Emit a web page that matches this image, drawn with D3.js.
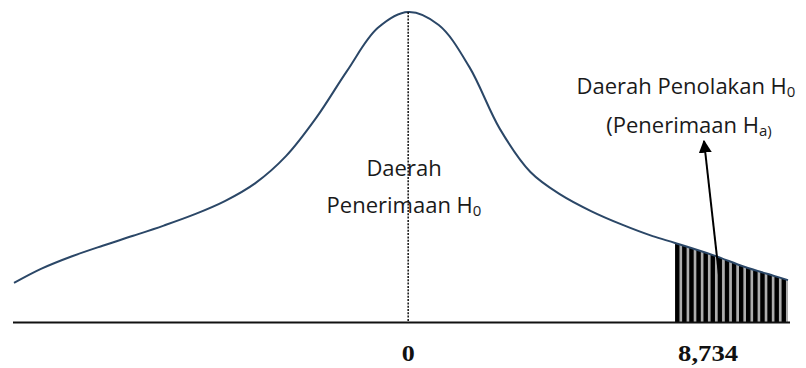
<!DOCTYPE html>
<html>
<head>
<meta charset="utf-8">
<script src="https://cdn.jsdelivr.net/npm/d3@7"></script>
<style>
  body { margin: 0; background: #fff; }
  .lbl { font-family: "Open Sans", sans-serif; fill: #1a1a1a; }
  .tick { font-family: "Liberation Serif", serif; font-weight: bold; fill: #111; }
</style>
</head>
<body>
<div id="chart"></div>
<script>
// curve: t (test statistic) and relative density
const tVals = [-12.9, -12, -11, -10, -9, -8, -7, -6, -5, -4, -3, -2, -1, 0,
               1, 2, 3, 4, 5, 6, 7, 8, 8.734, 10, 11, 12, 12.43];
const density = [0.126, 0.172, 0.212, 0.246, 0.278, 0.311, 0.347, 0.39, 0.448, 0.535, 0.66, 0.81, 0.948, 1.0,
                 0.958, 0.823, 0.623, 0.484, 0.41, 0.357, 0.314, 0.277, 0.255, 0.215, 0.178, 0.148, 0.135];
const critical = 8.734;
const tickVals = [0, critical];
const tickLabels = ["0", "8,734"];

const w = 806, h = 368;
const svg = d3.select("#chart").append("svg")
  .attr("width", w)
  .attr("height", h);

const x = d3.scaleLinear().domain([-12.9, 12.43]).range([14, 788]);
const y = d3.scaleLinear().domain([0, 1]).range([322, 12]);

const pts = tVals.map((t, i) => ({t: t, d: density[i]}));

// stripes for the rejection region
const defs = svg.append("defs");
const pat = defs.append("pattern")
  .attr("id", "stripes")
  .attr("patternUnits", "userSpaceOnUse")
  .attr("x", x(critical))
  .attr("width", 7.1)
  .attr("height", 10);
pat.append("rect").attr("width", 7.1).attr("height", 10).attr("fill", "#adadad");
pat.append("rect").attr("width", 4.4).attr("height", 10).attr("fill", "#000");

const tail = pts.filter(p => p.t >= critical);
svg.append("path")
  .datum(tail)
  .attr("fill", "url(#stripes)")
  .attr("d", d3.area().x(p => x(p.t)).y0(y(0)).y1(p => y(p.d)).curve(d3.curveCatmullRom));

// the bell curve
svg.append("path")
  .datum(pts)
  .attr("fill", "none")
  .attr("stroke", "#2b4767")
  .attr("stroke-width", 2)
  .attr("d", d3.line().x(p => x(p.t)).y(p => y(p.d)).curve(d3.curveCatmullRom));

// dotted centre line
svg.append("line")
  .attr("x1", x(0)).attr("x2", x(0))
  .attr("y1", y(1)).attr("y2", y(0))
  .attr("stroke", "#111")
  .attr("stroke-width", 1.5)
  .style("stroke-dasharray", ("2, 1.3"));

// base line
svg.append("line")
  .attr("x1", 13).attr("x2", 790)
  .attr("y1", y(0) + 0.5).attr("y2", y(0) + 0.5)
  .attr("stroke", "#111")
  .attr("stroke-width", 2);

// tick labels
svg.selectAll(".tick")
  .data(tickVals)
  .enter().append("text")
  .attr("class", "tick")
  .attr("x", (d, i) => i === 0 ? x(d) : x(d) + 3)
  .attr("y", 361)
  .attr("text-anchor", (d, i) => i === 0 ? "middle" : "start")
  .attr("textLength", (d, i) => i === 0 ? 13 : 60)
  .attr("lengthAdjust", "spacingAndGlyphs")
  .style("font-size", "24px")
  .text((d, i) => tickLabels[i]);

// arrow
defs.append("marker")
  .attr("id", "head")
  .attr("viewBox", "0 0 10 10")
  .attr("refX", 9).attr("refY", 5)
  .attr("markerUnits", "userSpaceOnUse")
  .attr("markerWidth", 13).attr("markerHeight", 13)
  .attr("orient", "auto")
  .append("path")
  .attr("d", "M0,0 L10,5 L0,10 Z")
  .attr("fill", "#000");

svg.append("line")
  .attr("x1", 720).attr("y1", 284)
  .attr("x2", 704).attr("y2", 141)
  .attr("stroke", "#000")
  .attr("stroke-width", 2)
  .attr("marker-end", "url(#head)");

// labels with subscripts
const label = (cx, cy, main, sub) => {
  const t = svg.append("text")
    .attr("class", "lbl")
    .attr("x", cx)
    .attr("y", cy)
    .attr("text-anchor", "middle")
    .style("font-size", "22px");
  t.append("tspan").text(main);
  if (sub) {
    t.append("tspan")
      .attr("dy", 3)
      .style("font-size", "15px")
      .text(sub);
  }
};

label(404, 176, "Daerah", null);
label(404, 213, "Penerimaan H", "0");
label(686, 94, "Daerah Penolakan H", "0");
label(689, 133, "(Penerimaan H", "a)");
</script>
</body>
</html>
